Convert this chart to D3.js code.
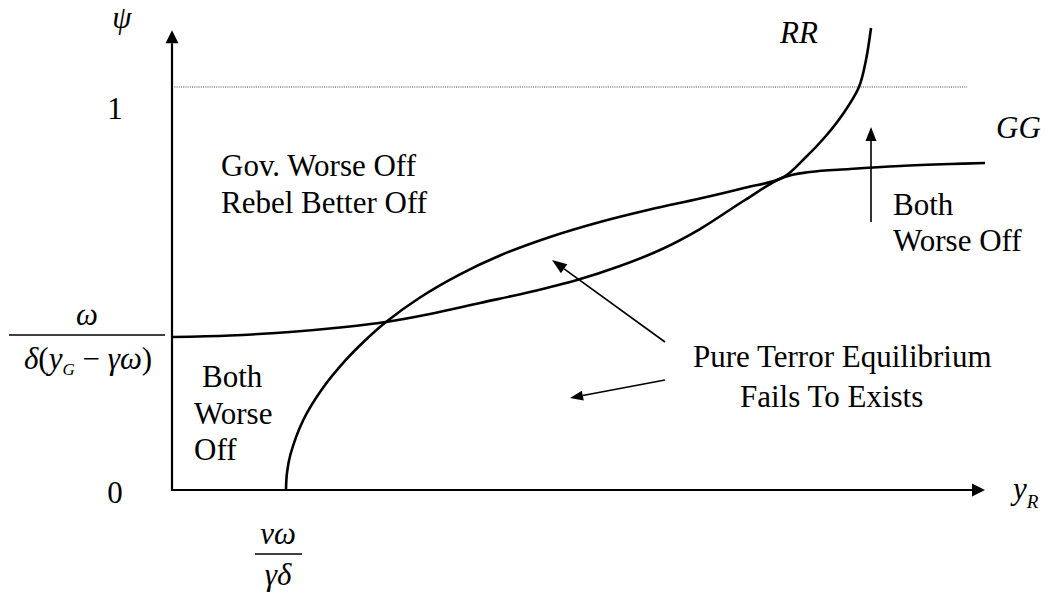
<!DOCTYPE html>
<html>
<head>
<meta charset="utf-8">
<script src="https://cdnjs.cloudflare.com/ajax/libs/d3/7.8.5/d3.min.js"></script>
<style>
    body { margin: 0; background: #fff; }
</style>
</head>
<body>
<svg id="chart" width="1050" height="597"></svg>
<script>
// RR curve (rebel): y_R on x, psi on y
const rrX = [14.02, 14.14, 14.55, 16.15, 18.38, 21.38, 23.81, 26.32, 30.50, 35.42, 40.34, 46.49, 52.64, 58.79, 64.94, 70.48, 75.15, 77.86, 80.32, 82.53, 84.50, 85.36, 85.98];
const rrY = [0, 0.0422, 0.0868, 0.1737, 0.2481, 0.3226, 0.3722, 0.4169, 0.4777, 0.5352, 0.5819, 0.6278, 0.6650, 0.6960, 0.7233, 0.7501, 0.7754, 0.8238, 0.8759, 0.9330, 1.0000, 1.0670, 1.1464];

// GG curve (government)
const ggX = [0, 7.13, 14.51, 20.66, 26.32, 31.73, 37.88, 44.03, 49.82, 55.10, 60.02, 64.94, 70.48, 75.15, 78.47, 83.39, 89.55, 95.69, 100];
const ggY = [0.3797, 0.3834, 0.3921, 0.4032, 0.4169, 0.4367, 0.4640, 0.4913, 0.5211, 0.5558, 0.5955, 0.6476, 0.7196, 0.7754, 0.7891, 0.7965, 0.8040, 0.8089, 0.8114];

const yTickVals = [0, 1];
const yTickLabels = ["0", "1"];
const xAxisMax = 100;
const yAxisMax = 1.141;
const dottedLevel = 1;

const FONT = "'Liberation Serif', 'Times New Roman', Tinos, 'DejaVu Serif', serif";

const svg = d3.select('#chart');

const x = d3.scaleLinear().domain([0, 100]).range([172, 985]);
const y = d3.scaleLinear().domain([0, 1]).range([490, 87]);

//simple arrow: line plus filled head at (x2,y2)
function arrow(x1, y1, x2, y2, len, hw, sw) {
    let a = Math.atan2(y2 - y1, x2 - x1);
    let bx = x2 - len * Math.cos(a), by = y2 - len * Math.sin(a);
    svg.append('line')
        .attr('x1', x1).attr('y1', y1).attr('x2', bx).attr('y2', by)
        .style('stroke', '#000').style('stroke-width', sw);
    let p = [
        [x2, y2],
        [bx + hw * Math.sin(a), by - hw * Math.cos(a)],
        [bx - hw * Math.sin(a), by + hw * Math.cos(a)]
    ];
    svg.append('polygon').attr('points', p.map(d => d.join(',')).join(' ')).style('fill', '#000');
}

function txt(px, py, size, italic) {
    return svg.append('text')
        .attr('x', px).attr('y', py)
        .style('font-family', FONT)
        .style('font-size', size + 'px')
        .style('font-style', italic ? 'italic' : 'normal')
        .style('fill', '#000');
}

// dotted psi = 1 line
svg.append('line')
    .attr('x1', x(0.3)).attr('x2', x(97.8))
    .attr('y1', y(dottedLevel)).attr('y2', y(dottedLevel))
    .style('stroke', '#444').style('stroke-width', 1)
    .style('stroke-dasharray', '1,1.2');

// axes
arrow(x(0), y(0) + 1, x(0), y(yAxisMax), 13, 6.5, 2.2);
arrow(x(0) - 1, y(0), x(xAxisMax), y(0), 13, 6.5, 2.2);

// curves
let line = d3.line()
    .x(function(d){ return x(d[0]); })
    .y(function(d){ return y(d[1]); })
    .curve(d3.curveCatmullRom.alpha(0.5));

svg.append('path')
    .attr('d', line(rrX.map((v, i) => [v, rrY[i]])))
    .style('fill', 'none').style('stroke', '#000').style('stroke-width', 2.6);

svg.append('path')
    .attr('d', line(ggX.map((v, i) => [v, ggY[i]])))
    .style('fill', 'none').style('stroke', '#000').style('stroke-width', 2.6);

// y tick labels
const tickDy = [13, 32];
yTickVals.forEach(function(v, i){
    txt(115, y(v) + tickDy[i], 31, false)
        .attr('text-anchor', 'middle')
        .text(yTickLabels[i]);
});

// axis titles
txt(122, 28, 31, true).attr('text-anchor', 'middle').text('ψ');

let yr = txt(1013, 499, 31, true);
yr.append('tspan').text('y');
yr.append('tspan').attr('dy', 9).style('font-size', '19px').text('R');

txt(780, 43, 31, true).text('RR');
txt(996, 138, 31, true).text('GG');

// GG intercept: omega / (delta (y_G - gamma omega))
txt(87, 325, 31, true).attr('text-anchor', 'middle').text('ω');
svg.append('line').attr('x1', 9).attr('x2', 165).attr('y1', 335).attr('y2', 335)
    .style('stroke', '#000').style('stroke-width', 1.5);
let den = txt(88, 369, 31, false).attr('text-anchor', 'middle');
den.append('tspan').style('font-style', 'italic').text('δ');
den.append('tspan').text('(');
den.append('tspan').style('font-style', 'italic').text('y');
den.append('tspan').attr('dy', 6).style('font-size', '17px').style('font-style', 'italic').text('G');
den.append('tspan').attr('dy', -6).text(' − ');
den.append('tspan').style('font-style', 'italic').text('γω');
den.append('tspan').text(')');

// RR intercept: nu omega / (gamma delta)
txt(278, 544, 31, true).attr('text-anchor', 'middle').text('νω');
svg.append('line').attr('x1', 255).attr('x2', 302).attr('y1', 554).attr('y2', 554)
    .style('stroke', '#000').style('stroke-width', 1.5);
txt(278, 585, 31, true).attr('text-anchor', 'middle').text('γδ');

// region labels
function label(lines, x0, y0, lh) {
    let t = txt(0, 0, 31, false);
    lines.forEach(function(s, i){
        t.append('tspan').attr('x', x0[i]).attr('y', y0 + i * lh).text(s);
    });
}
label(['Gov. Worse Off', 'Rebel Better Off'], [221, 221], 176, 37);
label(['Both', 'Worse', 'Off'], [202, 194, 194], 387, 36.5);
label(['Both', 'Worse Off'], [893, 893], 215, 36);
label(['Pure Terror Equilibrium', 'Fails To Exists'], [693, 740], 367, 40);

// annotation arrows
arrow(665, 342, 552, 260, 15, 5.5, 1.6);
arrow(665, 380, 570, 398, 13, 5, 1.6);
arrow(871, 222, 871, 127, 14, 5.5, 1.6);
</script>
</body>
</html>
